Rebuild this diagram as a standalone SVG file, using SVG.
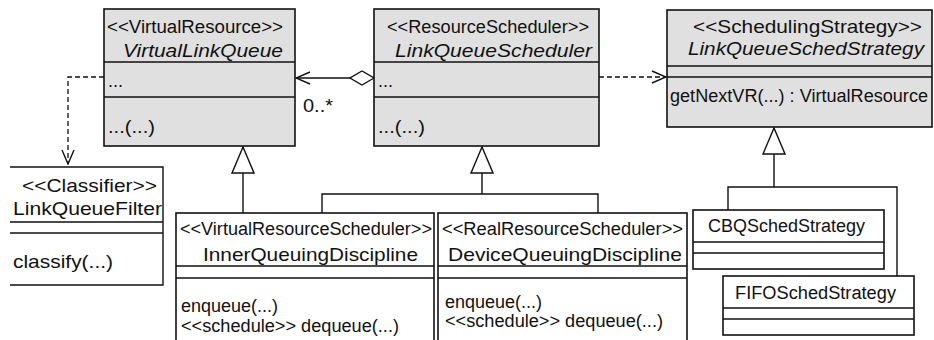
<svg xmlns="http://www.w3.org/2000/svg" width="934" height="340" viewBox="0 0 934 340">
<style>
text{font-family:"Liberation Sans",Arial,sans-serif;font-size:18px;fill:#111}
.it{font-style:italic;font-size:19px}
.nm{font-size:19px}
.box{stroke:#111;stroke-width:1.6;fill:#fff}
.gray{fill:#e0e0e0}
.ln{stroke:#111;stroke-width:1.4;fill:none}
.dash{stroke:#111;stroke-width:1.3;fill:none;stroke-dasharray:5 3}
</style>
<defs>
<marker id="open" markerUnits="userSpaceOnUse" viewBox="0 0 16 14" refX="15" refY="7" markerWidth="16" markerHeight="14" orient="auto">
<path d="M1,1 L15,7 L1,13" fill="none" stroke="#111" stroke-width="1.4"/>
</marker>
<marker id="tri" markerUnits="userSpaceOnUse" viewBox="0 0 28 24" refX="27" refY="12" markerWidth="28" markerHeight="24" orient="auto">
<path d="M1,1 L27,12 L1,23 Z" fill="#fff" stroke="#111" stroke-width="1.4"/>
</marker>
<marker id="dia" markerUnits="userSpaceOnUse" viewBox="0 0 26 16" refX="1" refY="8" markerWidth="26" markerHeight="16" orient="auto">
<path d="M1,8 L13,1 L25,8 L13,15 Z" fill="#fff" stroke="#111" stroke-width="1.4"/>
</marker>
</defs>

<g id="connectors">
<path class="dash" d="M104,77 L68,77 L68,164" marker-end="url(#open)"/>
<path class="dash" d="M599,77 L666,77" marker-end="url(#open)"/>
<path class="ln" d="M374,78 L296,78" marker-start="url(#dia)" marker-end="url(#open)"/>
<text x="303" y="112" textLength="30" lengthAdjust="spacingAndGlyphs">0..*</text>
<path class="ln" d="M243,213 L243,147" marker-end="url(#tri)"/>
<path class="ln" d="M322,213 L322,194 L598,194 L598,213"/>
<path class="ln" d="M482,194 L482,147" marker-end="url(#tri)"/>
<path class="ln" d="M728,210 L728,187 L897,187 L897,276"/>
<path class="ln" d="M774,187 L774,128" marker-end="url(#tri)"/>
</g>

<g id="VirtualLinkQueue">
<rect class="box gray" x="104" y="9" width="191" height="137"/>
<path class="ln" d="M104,62 H295 M104,97 H295"/>
<text x="107" y="33" textLength="176" lengthAdjust="spacingAndGlyphs">&lt;&lt;VirtualResource&gt;&gt;</text>
<text class="it" x="123" y="57" textLength="160" lengthAdjust="spacingAndGlyphs">VirtualLinkQueue</text>
<text x="108" y="87">...</text>
<text x="108" y="133" textLength="47" lengthAdjust="spacingAndGlyphs">...(...)</text>
</g>

<g id="LinkQueueScheduler">
<rect class="box gray" x="374" y="9" width="225" height="137"/>
<path class="ln" d="M374,62 H599 M374,97 H599"/>
<text x="387" y="33" textLength="202" lengthAdjust="spacingAndGlyphs">&lt;&lt;ResourceScheduler&gt;&gt;</text>
<text class="it" x="395" y="57" textLength="197" lengthAdjust="spacingAndGlyphs">LinkQueueScheduler</text>
<text x="378" y="87">...</text>
<text x="378" y="133" textLength="47" lengthAdjust="spacingAndGlyphs">...(...)</text>
</g>

<g id="LinkQueueSchedStrategy">
<rect class="box gray" x="667" y="10" width="265" height="117"/>
<path class="ln" d="M667,66 H932 M667,77 H932"/>
<text class="nm" x="693" y="33" textLength="229" lengthAdjust="spacingAndGlyphs">&lt;&lt;SchedulingStrategy&gt;&gt;</text>
<text class="it" x="688" y="55" textLength="236" lengthAdjust="spacingAndGlyphs">LinkQueueSchedStrategy</text>
<text x="670" y="102" textLength="258" lengthAdjust="spacingAndGlyphs">getNextVR(...) : VirtualResource</text>
</g>

<g id="LinkQueueFilter">
<path class="ln" d="M10,167 H163 V285 H10 M10,222 H163 M10,233 H163"/>
<text class="nm" x="22" y="192" textLength="135" lengthAdjust="spacingAndGlyphs">&lt;&lt;Classifier&gt;&gt;</text>
<text class="nm" x="13" y="215" textLength="149" lengthAdjust="spacingAndGlyphs">LinkQueueFilter</text>
<text class="nm" x="13" y="268" textLength="100" lengthAdjust="spacingAndGlyphs">classify(...)</text>
</g>

<g id="InnerQueuingDiscipline">
<rect class="box" x="176" y="213" width="258" height="135"/>
<path class="ln" d="M176,266 H434 M176,278 H434"/>
<text x="180" y="235" textLength="252" lengthAdjust="spacingAndGlyphs">&lt;&lt;VirtualResourceScheduler&gt;&gt;</text>
<text class="nm" x="203" y="261" textLength="215" lengthAdjust="spacingAndGlyphs">InnerQueuingDiscipline</text>
<text x="181" y="312" textLength="97" lengthAdjust="spacingAndGlyphs">enqueue(...)</text>
<text x="181" y="332" textLength="218" lengthAdjust="spacingAndGlyphs">&lt;&lt;schedule&gt;&gt; dequeue(...)</text>
</g>

<g id="DeviceQueuingDiscipline">
<rect class="box" x="438" y="213" width="249" height="135"/>
<path class="ln" d="M438,266 H687 M438,278 H687"/>
<text x="442" y="235" textLength="241" lengthAdjust="spacingAndGlyphs">&lt;&lt;RealResourceScheduler&gt;&gt;</text>
<text class="nm" x="448" y="261" textLength="234" lengthAdjust="spacingAndGlyphs">DeviceQueuingDiscipline</text>
<text x="445" y="308" textLength="97" lengthAdjust="spacingAndGlyphs">enqueue(...)</text>
<text x="445" y="327" textLength="218" lengthAdjust="spacingAndGlyphs">&lt;&lt;schedule&gt;&gt; dequeue(...)</text>
</g>

<g id="CBQSchedStrategy">
<rect class="box" x="693" y="210" width="191" height="59"/>
<path class="ln" d="M693,242 H884 M693,253 H884"/>
<text x="708" y="232" textLength="157" lengthAdjust="spacingAndGlyphs">CBQSchedStrategy</text>
</g>

<g id="FIFOSchedStrategy">
<rect class="box" x="723" y="276" width="191" height="59"/>
<path class="ln" d="M723,308 H914 M723,319 H914"/>
<text x="735" y="299" textLength="161" lengthAdjust="spacingAndGlyphs">FIFOSchedStrategy</text>
</g>
</svg>
